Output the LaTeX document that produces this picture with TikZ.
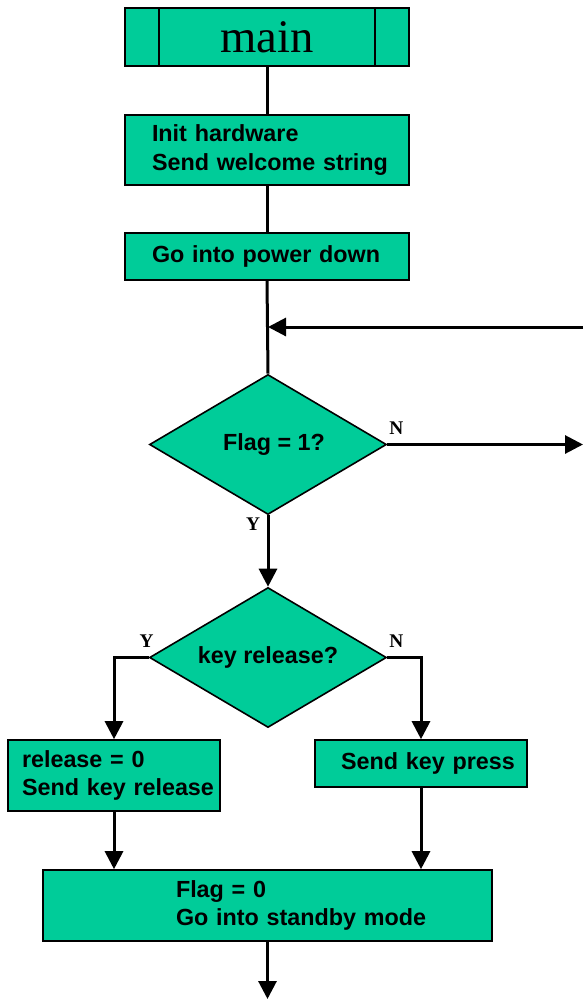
\documentclass[tikz,border=0pt]{standalone}
\usepackage{fontspec}
\setmainfont{Liberation Sans}
\newfontfamily\yesnofont{Liberation Serif}
\usepackage{tikz}
\usetikzlibrary{shapes.geometric,arrows.meta}
\definecolor{boxgreen}{HTML}{00CC99}

\begin{document}
\begin{tikzpicture}[x=0.75pt,y=-0.75pt,
			procbox/.style={draw=black,line width=1.2pt,fill=boxgreen,rectangle,inner xsep=0pt,inner ysep=0pt,
				align=left,font=\fontsize{17.5}{21.5}\selectfont\bfseries},
			decide/.style={draw=black,line width=1.2pt,fill=boxgreen,diamond,aspect=1.7,inner sep=0pt,
				minimum width=237*0.75pt,minimum height=140*0.75pt,font=\fontsize{17.5}{21.5}\selectfont\bfseries},
			yn/.style={font=\yesnofont\fontsize{14.5}{15}\selectfont\bfseries,inner sep=0pt},
			flow/.style={line width=2.25pt},
			flowarrow/.style={line width=2.25pt,-{Triangle[length=13.5pt,width=13.5pt]}}]
			\useasboundingbox (0,0) rectangle (583,999);
			% boxes
			\node[procbox,minimum width=284*0.75pt,minimum height=58*0.75pt,align=center,
				font=\yesnofont\fontsize{35}{37}\selectfont] (main) at (267,37) {main};
			\node[procbox,minimum width=284*0.75pt,minimum height=70*0.75pt,text width=230*0.75pt] (init) at (267,150)
				{\mbox{Init hardware}\\\mbox{Send welcome string}};
			\node[procbox,minimum width=284*0.75pt,minimum height=47*0.75pt,text width=230*0.75pt] (power) at (267,256.5)
				{\mbox{Go into power down}};
			\node[decide] (flag) at (268,444.5) {\hspace*{9pt}Flag = 1?};
			\node[decide] (keyrel) at (268,657.5) {key release?};
			\node[procbox,minimum width=212*0.75pt,minimum height=71*0.75pt,text width=184*0.75pt] (rel) at (114,775.5)
				{\mbox{release = 0}\\\mbox{Send key release}};
			\node[procbox,minimum width=212*0.75pt,minimum height=47*0.75pt,text width=160*0.75pt] (press) at (421,763.5)
				{\mbox{Send key press}};
			\node[procbox,minimum width=449*0.75pt,minimum height=71*0.75pt,text width=183*0.75pt] (standby) at (267.5,905.5)
				{\mbox{Flag = 0}\\\mbox{Go into standby mode}};
			% side bars of main
			\draw[line width=1.2pt] ([shift={(35,0)}]main.north west) -- ([shift={(35,0)}]main.south west);
			\draw[line width=1.2pt] ([shift={(-35,0)}]main.north east) -- ([shift={(-35,0)}]main.south east);
			% free ends
			\coordinate (loopin) at (583,327);
			\coordinate (loopjoin) at (268,327);
			\coordinate (flagout) at (583,444.5);
			\coordinate (exit) at (267.5,999);
			% labels
			\node[yn] (n1) at ([shift={(9,-16)}]flag.east) {N};
			\node[yn] (y1) at ([shift={(-15,9)}]flag.south) {Y};
			\node[yn] (y2) at ([shift={(-2,-16)}]keyrel.west) {Y};
			\node[yn] (n2) at ([shift={(9,-16)}]keyrel.east) {N};
			% connectors
			\draw[flow] (main.south) -- (init.north);
			\draw[flow] (init.south) -- (power.north);
			\draw[flow] (power.south) -- (flag.north);
			\draw[flowarrow] (loopin) -- (loopjoin);
			\draw[flowarrow] (flag.east) -- (flagout);
			\draw[flowarrow] (flag.south) -- (keyrel.north);
			\draw[flowarrow] (keyrel.west) -| (rel.north);
			\draw[flowarrow] (keyrel.east) -| (press.north);
			\draw[flowarrow] (rel.south) -- (rel.south |- standby.north);
			\draw[flowarrow] (press.south) -- (press.south |- standby.north);
			\draw[flowarrow] (standby.south) -- (exit);
		\end{tikzpicture}
\end{document}
